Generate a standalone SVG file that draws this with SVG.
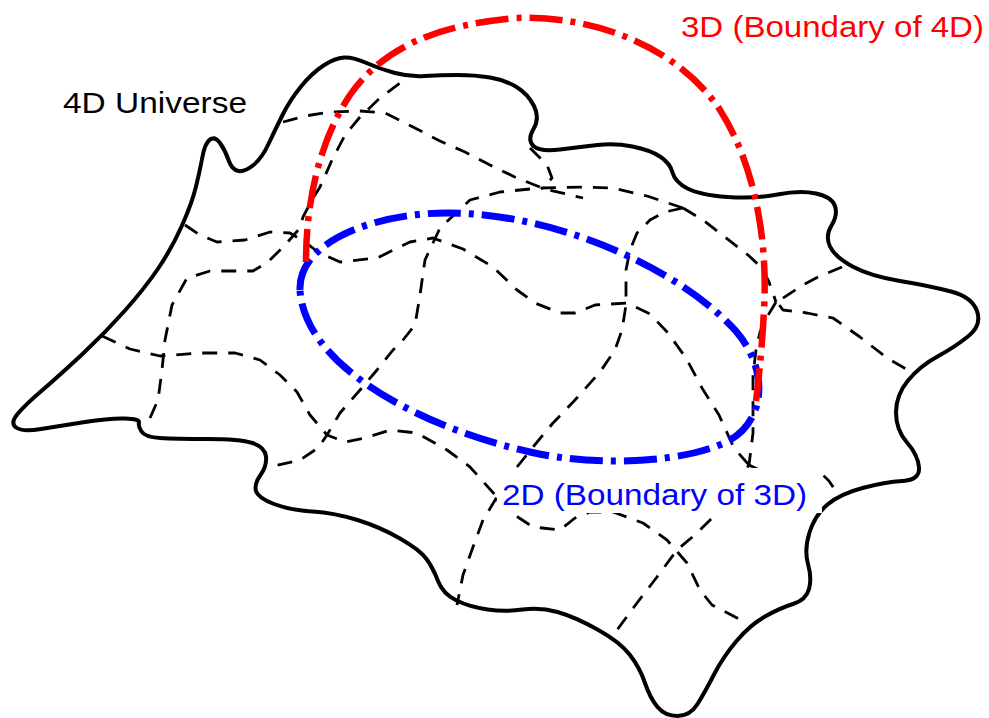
<svg xmlns="http://www.w3.org/2000/svg" width="989" height="718" viewBox="0 0 989 718">
  <style>
    .outline { fill: none; stroke: #000; stroke-width: 4; stroke-linejoin: round; }
    .grid { fill: none; stroke: #000; stroke-width: 2.8; stroke-dasharray: 15 11; stroke-linejoin: round; }
    .blue { fill: none; stroke: #0000ff; stroke-width: 7; stroke-dasharray: 33 8 5 8; }
    .red { fill: none; stroke: #ff0000; stroke-width: 6.5; stroke-dasharray: 33 8 5 8; }
    .label { font-family: "Liberation Sans", Arial, Helvetica, sans-serif; font-size: 30px; }
  </style>
  <rect width="989" height="718" fill="#fff"/>

  <!-- wavy boundary of the 4D universe -->
  <g id="universe">
    <path class="outline" d="M344,57.5 Q353,57 366.5,63 Q380,69 395,73 Q410,77 425,76 Q440,75 457.5,75 Q475,75 490,77.5 Q505,80 516.5,87 Q528,94 534,106 Q540,118 533.5,129 Q527,140 533.5,146 Q540,152 560,149.5 Q580,147 597.5,145 Q615,143 632.5,146.5 Q650,150 660,156.5 Q670,163 672.5,172.5 Q675,182 687.5,188.5 Q700,195 727.5,197 Q755,199 777.5,194.5 Q800,190 816,193.5 Q832,197 835,206 Q838,215 831.5,225.5 Q825,236 830,246.5 Q835,257 852.5,266.5 Q870,276 900,281 Q930,286 951,291.5 Q972,297 977,311 Q982,325 968.5,336 Q955,347 937.5,356.5 Q920,366 908,380.5 Q896,395 896,412.5 Q896,430 907,442.5 Q918,455 919,467.5 Q920,480 902.5,481 Q885,482 862.5,488 Q840,494 827.5,504.5 Q815,515 809.5,532.5 Q804,550 808,564 Q812,578 809,589 Q806,600 793,604 Q780,608 765,616.5 Q750,625 736.5,641 Q723,657 714,674.5 Q705,692 697.5,704 Q690,716 677.5,716 Q665,716 657.5,707 Q650,698 645,683 Q640,668 630,655 Q620,642 597.5,629.5 Q575,617 557.5,612 Q540,607 522.5,609.5 Q505,612 487.5,609.5 Q470,607 456.5,600.5 Q443,594 438,581 Q433,568 426.5,559 Q420,550 400,538.5 Q380,527 357.5,520 Q335,513 312.5,511.5 Q290,510 274,504 Q258,498 256,491 Q254,484 260.5,475 Q267,466 266,456.5 Q265,447 252.5,443 Q240,439 207.5,439 Q175,439 160,438 Q145,437 141.5,431.5 Q138,426 139,422.5 Q140,419 125,418.5 Q110,418 85,422 Q60,426 41,429 Q22,432 16,427.5 Q10,423 17.5,414 Q25,405 42.5,390 Q60,375 82.5,354 Q105,333 125,310.5 Q145,288 158.5,268 Q172,248 182,225.5 Q192,203 196,186.5 Q200,170 202.5,156.5 Q205,143 210,139.5 Q215,136 220,143 Q225,150 228.5,160 Q232,170 238.5,171 Q245,172 253.5,165 Q262,158 268.5,144 Q275,130 282.5,115 Q290,100 301,86.5 Q312,73 323.5,65.5 Q335,58 344,57.5 Z"/>
  </g>

  <!-- dashed coordinate mesh on the surface -->
  <g id="mesh">
    <polyline class="grid" points="283,122 305,116 330,112 360,111 385,113 413,127 440,141 465,152 490,165 517,178 545,189 583,198"/>
    <polyline class="grid" points="530,148 547,165 552,178 541,189"/>
    <polyline class="grid" points="683,208 647,196 613,188 583,187 540,188 500,192 470,200 440,228 425,260 420,295 415,325 403,340 393,350 377,370 360,390 340,413 327,435 318,448 300,460 270,467"/>
    <polyline class="grid" points="683,208 703,220 725,237 748,255 762,268 769,282 776,302"/>
    <polyline class="grid" points="776,302 767,317 760,332 756,350 753,375 753,405 753,433 749,465 735,487 717,513 697,533 677,550 657,577 637,603 614,634"/>
    <polyline class="grid" points="842,267 820,276 803,285 777,302 783,310 807,313 833,318 860,337 887,358 913,373"/>
    <polyline class="grid" points="683,208 665,212 650,220 637,233 630,250 626,270 626,305 622,330 615,350 600,372 575,400 553,423 533,447 517,467 497,497 483,520 473,547 463,575 457,605"/>
    <polyline class="grid" points="185,225 200,235 217,242 245,240 270,232 290,233 305,242 318,252 340,262 377,258 410,242 433,238 463,249 493,267 517,290 535,303 560,313 575,313 595,305 627,303 650,314 668,333 686,358 702,388 719,415 734,448 749,465"/>
    <polyline class="grid" points="749,465 770,475 800,474 821,473 829,481 840,497"/>
    <polyline class="grid" points="497,500 510,512 533,527 560,530 575,518 590,512 613,512 643,523 667,540 687,563 700,590 712,605 747,623"/>
    <polyline class="grid" points="102,336 130,349 160,356 200,353 235,353 260,360 280,375 297,392 310,415 327,435 345,442 365,438 390,430 417,433 447,450 470,467 497,497"/>
    <polyline class="grid" points="150,418 158,400 162,370 165,340 172,305 187,278 210,271 253,271 268,262 285,245 300,228 303,217 312,200 320,187 332,160 345,135 360,117 380,98 400,83 405,78"/>
  </g>

  <!-- 2D boundary of the 3D region -->
  <g id="boundary-2d">
    <path class="blue" d="M300,290 C298,240 380,212 450,213 C560,214 680,270 735,330 C770,370 765,420 730,440 C690,462 600,468 530,452 C430,430 305,370 300,290 Z"/>
  </g>

  <!-- 3D boundary of the 4D universe -->
  <g id="boundary-3d">
    <path class="red" d="M306,262 C306,200 320,140 350,95 C385,45 440,25 515,18 C600,15 680,50 720,110 C755,165 768,240 764,310 C762,350 758,385 755,410"/>
  </g>

  <!-- labels -->
  <g id="label-4d">
    <text class="label" x="63" y="113" fill="#000" textLength="184" lengthAdjust="spacingAndGlyphs">4D Universe</text>
  </g>
  <g id="label-3d">
    <text class="label" x="681" y="37" fill="#ff0000" textLength="303" lengthAdjust="spacingAndGlyphs">3D (Boundary of 4D)</text>
  </g>
  <g id="label-2d">
    <rect x="497" y="468" width="325" height="45" fill="#fff"/>
    <text class="label" x="502" y="505" fill="#0000ff" textLength="305" lengthAdjust="spacingAndGlyphs">2D (Boundary of 3D)</text>
  </g>
</svg>
